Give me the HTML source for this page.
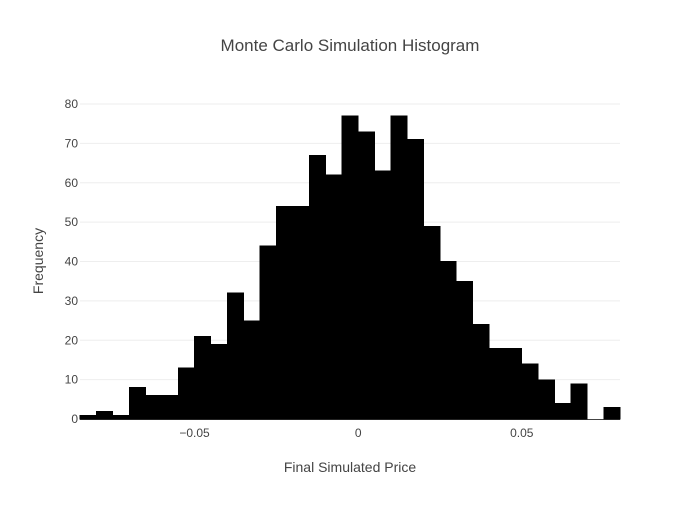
<!DOCTYPE html>
<html><head><meta charset="utf-8"><style>
body{margin:0;background:#fff;font-family:"Liberation Sans",sans-serif}
</style></head><body>
<svg width="700" height="500" xmlns="http://www.w3.org/2000/svg">
<text x="350" y="51" text-anchor="middle" font-size="17" fill="#444">Monte Carlo Simulation Histogram</text>
<g id="grid"></g><g id="bars" shape-rendering="crispEdges"></g><g id="ticks"></g>
<text x="350" y="472" text-anchor="middle" font-size="14" fill="#444">Final Simulated Price</text>
<text transform="translate(43,261) rotate(-90)" text-anchor="middle" font-size="14" fill="#444">Frequency</text>
</svg>
<script>
const binStart = -0.085;
const binSize = 0.005;
const counts = [1,2,1,8,6,6,13,21,19,32,25,44,54,54,67,62,77,73,63,77,71,49,40,35,24,18,18,14,10,4,9,0,3];
const yTicks = [0,10,20,30,40,50,60,70,80];
const xTicks = [-0.05,0,0.05];
const xTickLabels = ["\u22120.05","0","0.05"];
const L=80,R=620,T=104,B=419;
const xMin=binStart, xMax=binStart+counts.length*binSize;
const xs=v=>L+(v-xMin)/(xMax-xMin)*(R-L);
const ys=v=>B-v/80*(B-T);
const NS="http://www.w3.org/2000/svg";
function mk(tag,attrs,parent,txt){const e=document.createElementNS(NS,tag);for(const k in attrs)e.setAttribute(k,attrs[k]);if(txt!==undefined)e.textContent=txt;document.getElementById(parent).appendChild(e);return e;}
yTicks.forEach(t=>{
  if(t>0){const g=mk('line',{x1:L,x2:R,y1:ys(t),y2:ys(t),stroke:'#eee','stroke-width':1},'grid');
  
  }
  const l=mk('text',{x:L-2,y:ys(t)+4,'text-anchor':'end','font-size':12,fill:'#444'},'ticks',String(t));
  
  
});
counts.forEach((c,i)=>{
  if(c<=0) return;
  const x0=xs(binStart+i*binSize),x1=xs(binStart+(i+1)*binSize);
  const r=mk('rect',{x:x0,y:ys(c),width:x1-x0,height:B-ys(c),fill:'#000',stroke:'#000','stroke-width':0.6},'bars');
  
  
});
const base=mk('line',{x1:L,x2:R,y1:B+0.5,y2:B+0.5,stroke:'#444','stroke-width':1},'grid');


xTicks.forEach((t,i)=>{
  const l=mk('text',{x:xs(t),y:437,'text-anchor':'middle','font-size':12,fill:'#444'},'ticks',xTickLabels[i]);
  
  
});
</script>
</body></html>
